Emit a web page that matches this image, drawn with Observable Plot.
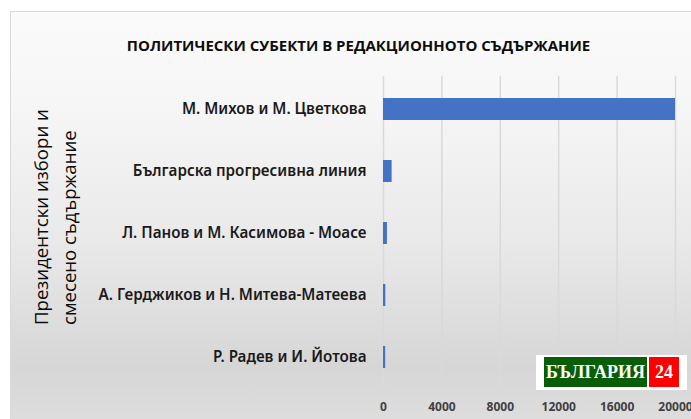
<!DOCTYPE html>
<html>
<head>
<meta charset="utf-8">
<script src="https://cdn.jsdelivr.net/npm/d3@7"></script>
<script src="https://cdn.jsdelivr.net/npm/@observablehq/plot@0.6"></script>
<style>
  html, body { margin: 0; padding: 0; background: #ffffff; }
  #wrap { position: relative; width: 691px; height: 419px; overflow: hidden; background: #ffffff; font-family: "Open Sans", sans-serif; }
  #panel { position: absolute; left: 10px; top: 11px; width: 700px; height: 420px; box-sizing: border-box;
    border-left: 1px solid #d9d9d9; border-top: 1px solid #d9d9d9;
    background: linear-gradient(to bottom, #fafafa 0%, #f7f7f7 20%, #e9e9e9 55%, #d6d6d6 85%, #dfdfdf 100%); }
  #title { position: absolute; left: 0; width: 717px; top: 35px; text-align: center; font-weight: 700; font-size: 15px; color: #0d0d0d; white-space: nowrap; }
  #ytitle { position: absolute; left: 27px; top: 325px; transform-origin: 0 0; transform: rotate(-90deg); font-size: 18.6px; line-height: 28px; color: #0d0d0d; white-space: nowrap; }
  #chart { position: absolute; left: 0; top: 0; }
  #logo { position: absolute; left: 536px; top: 355px; width: 151px; height: 35px; background: #ffffff; }
  #logo .g { position: absolute; left: 8px; top: 2px; width: 103px; height: 30px; background: #075e07; color: #fff; font-family: "Liberation Serif", serif; font-weight: 700; font-size: 18px; line-height: 30px; text-align: center; }
  #logo .r { position: absolute; left: 113px; top: 2px; width: 30px; height: 30px; background: #ff0000; color: #fff; font-family: "Liberation Serif", serif; font-weight: 700; font-size: 18px; line-height: 30px; text-align: center; }
</style>
</head>
<body>
<div id="wrap">
  <div id="panel"></div>
  <div id="chart"></div>
  <div id="title">ПОЛИТИЧЕСКИ СУБЕКТИ В РЕДАКЦИОННОТО СЪДЪРЖАНИЕ</div>
  <div id="ytitle">Президентски избори и<br>смесено съдържание</div>
  <div id="logo"><div class="g">БЪЛГАРИЯ</div><div class="r">24</div></div>
</div>
<script>
const categories = [
  "М. Михов и М. Цветкова",
  "Българска прогресивна линия",
  "Л. Панов и М. Касимова - Моасе",
  "А. Герджиков и Н. Митева-Матеева",
  "Р. Радев и И. Йотова"
];
const values = [20000, 590, 270, 160, 150];
const xTicks = [0, 4000, 8000, 12000, 16000, 20000];

const data = categories.map((c, i) => ({category: c, value: values[i]}));

const chart = Plot.plot({
  width: 691,
  height: 419,
  marginLeft: 383,
  marginRight: 16,
  marginTop: 76,
  marginBottom: 29,
  style: {background: "transparent", overflow: "hidden"},
  x: {domain: [0, 20000], ticks: xTicks, label: null},
  y: {domain: categories, paddingInner: 0.65, paddingOuter: 0.325, label: null},
  marks: [
    Plot.ruleX(xTicks, {stroke: "#d9d9d9", strokeWidth: 1.5}),
    Plot.barX(data, {x: "value", y: "category", fill: "#4472c4"}),
    Plot.axisX({ticks: xTicks, tickSize: 0, tickPadding: 12, tickFormat: d => String(d), fontSize: 12, fontWeight: 700, fill: "#404040", label: null}),
    Plot.axisY({tickSize: 0, tickPadding: 17, fontSize: 15.2, fontWeight: 600, fill: "#1a1a1a", label: null})
  ]
});
chart.setAttribute("overflow", "hidden");
document.getElementById("chart").appendChild(chart);
</script>
</body>
</html>
